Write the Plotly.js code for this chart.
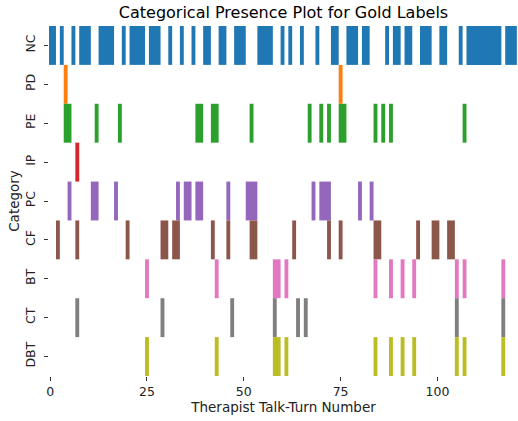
<!DOCTYPE html>
<html>
<head>
<meta charset="utf-8">
<script src="https://cdn.plot.ly/plotly-3.0.1.min.js"></script>
<style>html,body{margin:0;padding:0;background:#fff;}#chart{width:518px;height:421px;}</style>
</head>
<body>
<div id="chart"></div>
<script>
const categories = ["NC", "PD", "PE", "IP", "PC", "CF", "BT", "CT", "DBT"];
const colors = ["#1f77b4", "#ff7f0e", "#2ca02c", "#d62728", "#9467bd", "#8c564b", "#e377c2", "#7f7f7f", "#bcbd22"];

const turnsNC = [0,1,3,6,8,9,10,13,14,15,16,19,21,22,23,24,26,27,28,31,34,37,40,41,44,45,48,49,50,
  54,55,56,57,60,62,65,69,73,74,77,78,79,81,82,87,89,90,92,93,96,97,98,101,102,106,
  108,109,110,111,112,113,114,115,116,118,119,120];
const turnsPD = [4, 75];
const turnsPE = [4,5,12,18,38,39,42,43,52,67,70,72,75,76,84,86,88,107];
const turnsIP = [7];
const turnsPC = [5,11,12,17,33,35,36,38,39,46,51,52,53,68,70,71,72,80,83];
const turnsCF = [2,7,20,29,30,32,33,42,46,52,53,63,72,75,84,85,95,99,100,103,104];
const turnsBT = [25,43,58,59,61,84,88,91,94,105,107,117];
const turnsCT = [7,29,47,58,64,66,105,117];
const turnsDBT = [25,43,58,59,61,84,88,91,94,105,107,117];

const xTickVals = [0, 25, 50, 75, 100];

const allTurns = [turnsNC, turnsPD, turnsPE, turnsIP, turnsPC, turnsCF, turnsBT, turnsCT, turnsDBT];

// group consecutive turns into runs so adjacent bars draw without seams
function runs(turns) {
  const s = turns.slice().sort((a, b) => a - b);
  const out = [];
  let start = s[0], prev = s[0];
  for (let k = 1; k <= s.length; k++) {
    if (k < s.length && s[k] === prev + 1) { prev = s[k]; continue; }
    out.push([start, prev]);
    if (k < s.length) { start = s[k]; prev = s[k]; }
  }
  return out;
}

const traces = allTurns.map((turns, i) => {
  const r = runs(turns);
  return {
    type: "bar",
    x: r.map(([a, b]) => (a + b) / 2),
    y: r.map(() => 1),
    base: r.map(() => i - 0.5),
    width: r.map(([a, b]) => b - a + 1),
    marker: { color: colors[i], line: { width: 0 } },
    name: categories[i],
    hoverinfo: "name",
    showlegend: false
  };
});

const font = "DejaVu Sans, sans-serif";
const layout = {
  width: 518,
  height: 421,
  margin: { l: 49, r: 0, t: 26, b: 45, pad: 0 },
  paper_bgcolor: "#fff",
  plot_bgcolor: "#fff",
  barmode: "overlay",
  title: { text: "Categorical Presence Plot for Gold Labels", font: { family: font, size: 16, color: "#000" },
    x: 0.5, xref: "paper", y: 1, yref: "container", yanchor: "top", pad: { t: 7 } },
  xaxis: {
    range: [-0.3, 120.8],
    tickvals: xTickVals,
    ticktext: xTickVals.map(String),
    ticks: "outside", ticklen: 4, tickwidth: 1, tickcolor: "#333",
    showgrid: false, zeroline: false, showline: false,
    tickfont: { family: font, size: 12.5, color: "#222" },
    title: { text: "Therapist Talk-Turn Number", font: { family: font, size: 13.5, color: "#222" }, standoff: 3 }
  },
  yaxis: {
    range: [8.5, -0.5],
    tickvals: categories.map((c, i) => i),
    ticktext: categories,
    tickangle: -90,
    ticks: "outside", ticklen: 4, tickwidth: 1, tickcolor: "#333",
    ticklabelstandoff: 4,
    showgrid: false, zeroline: false, showline: false,
    tickfont: { family: font, size: 12.5, color: "#222" },
    title: { text: "Category", font: { family: font, size: 13.5, color: "#222" }, standoff: 0 }
  }
};

Plotly.newPlot("chart", traces, layout, { displayModeBar: false, staticPlot: true });
</script>
</body>
</html>
